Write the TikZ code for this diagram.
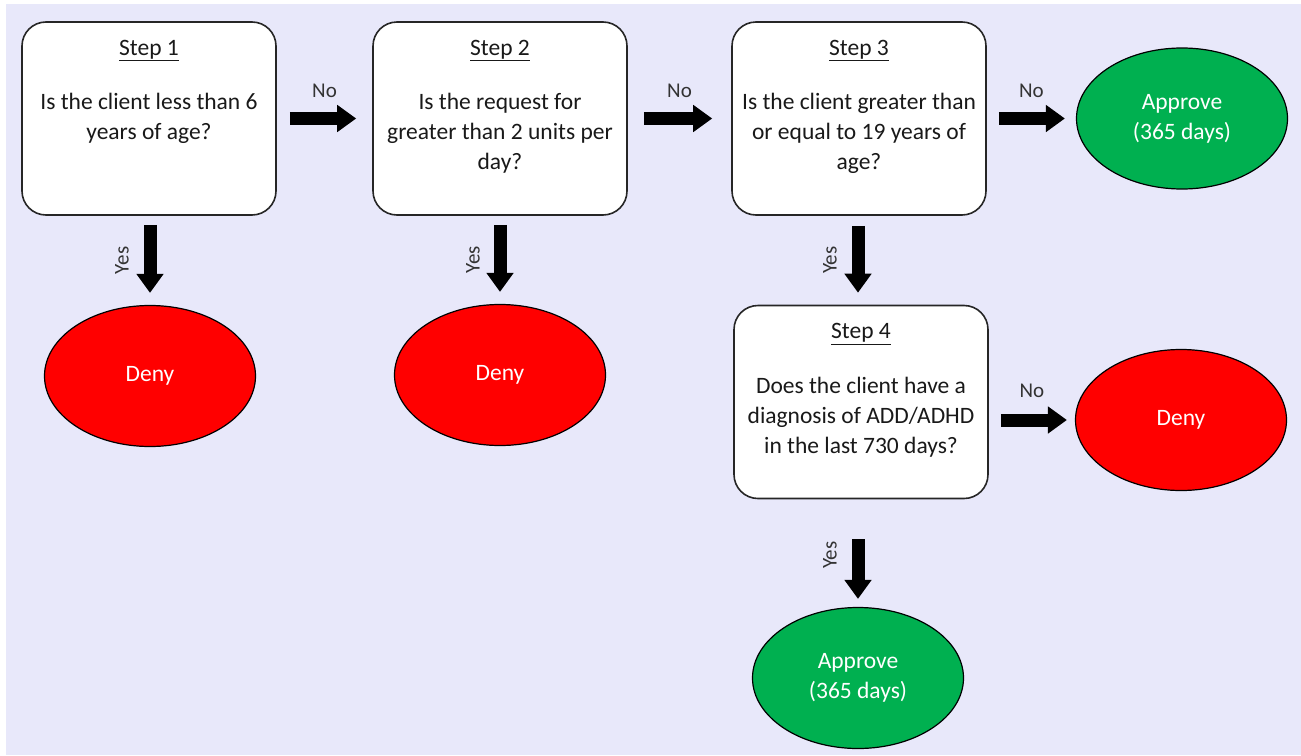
\documentclass[tikz,border=0pt]{standalone}
\usepackage{fontspec}
\setmainfont{Carlito}
\usetikzlibrary{positioning,arrows.meta,shapes.geometric}
\definecolor{bglav}{HTML}{E8E8FA}
\definecolor{denyred}{HTML}{FF0000}
\definecolor{okgreen}{HTML}{00B050}
\newcommand{\qfont}{\fontsize{23.5}{30}\selectfont}

\tikzset{
  stepbox/.style={draw=black!85, line width=1.6pt, fill=white, rounded corners=24pt,
    minimum width=254pt, minimum height=193pt},
  steptext/.style={align=center, anchor=north, font=\qfont, text=black!90},
  denyoval/.style={ellipse, draw=black, line width=1.2pt, fill=denyred, text=white,
    minimum width=211pt, minimum height=141pt, align=center, font=\qfont},
  okoval/.style={denyoval, fill=okgreen},
  blockarrow/.style={line width=13pt, -{Triangle[width=26pt,length=19pt]}},
  lbl/.style={font=\fontsize{21}{24}\selectfont, text=black!80}
}

\begin{document}
\begin{tikzpicture}[x=1pt, y=-1pt]
\useasboundingbox (0,0) rectangle (1301,755);
\fill[bglav] (6,4) rectangle (1301,755);

% question boxes
\node[stepbox] (s1) at (149,118.5) {};
\node[stepbox] (s2) at (500,118.5) {};
\node[stepbox] (s3) at (859,118.5) {};
\node[stepbox] (s4) at (861,402) {};

\node[steptext, below=15.5pt of s1.north] (s1txt) {\underline{Step 1}\\[24pt]
  Is the client less than 6\\ years of age?};
\node[steptext, below=15.5pt of s2.north] (s2txt) {\underline{Step 2}\\[24pt]
  Is the request for\\ greater than 2 units per\\ day?};
\node[steptext, below=15.5pt of s3.north] (s3txt) {\underline{Step 3}\\[24pt]
  Is the client greater than\\ or equal to 19 years of\\ age?};
\node[steptext, below=15.5pt of s4.north] (s4txt) {\underline{Step 4}\\[25pt]
  Does the client have a\\ diagnosis of ADD/ADHD\\ in the last 730 days?};

% outcomes
\node[denyoval] (d1) at (150,376) {Deny};
\node[denyoval] (d2) at (500,375) {Deny};
\node[okoval] (a1) at (1182,118.5) {Approve\\(365 days)};
\node[denyoval] (d3) at (1181,420) {Deny};
\node[okoval] (a2) at (858,678) {Approve\\(365 days)};

% no branches
\draw[blockarrow, shorten <=13pt, shorten >=16pt] (s1) -- node[lbl, midway, yshift=28pt] {No} (s2);
\draw[blockarrow, shorten <=16pt, shorten >=19pt] (s2) -- node[lbl, midway, yshift=28pt] {No} (s3);
\draw[blockarrow, shorten <=12pt, shorten >=11pt] (s3) -- node[lbl, midway, yshift=28pt] {No} (a1);
\draw[blockarrow, shorten <=12pt, shorten >=8pt] (s4.east |- d3) -- node[lbl, midway, yshift=29pt] {No} (d3);

% yes branches
\draw[blockarrow, shorten <=9pt, shorten >=12pt] (s1.south -| d1) -- node[lbl, midway, xshift=-28pt, rotate=90] {Yes} (d1);
\draw[blockarrow, shorten <=9pt, shorten >=12pt] (s2) -- node[lbl, midway, xshift=-27pt, rotate=90] {Yes} (d2);
\draw[blockarrow, shorten <=10pt, shorten >=12pt] (s3.south -| a2) -- node[lbl, midway, xshift=-28pt, rotate=90] {Yes} (s4.north -| a2);
\draw[blockarrow, shorten <=40pt, shorten >=8pt] (s4.south -| a2) -- node[lbl, midway, xshift=-28pt, yshift=-2pt, rotate=90] {Yes} (a2);
\end{tikzpicture}
\end{document}
